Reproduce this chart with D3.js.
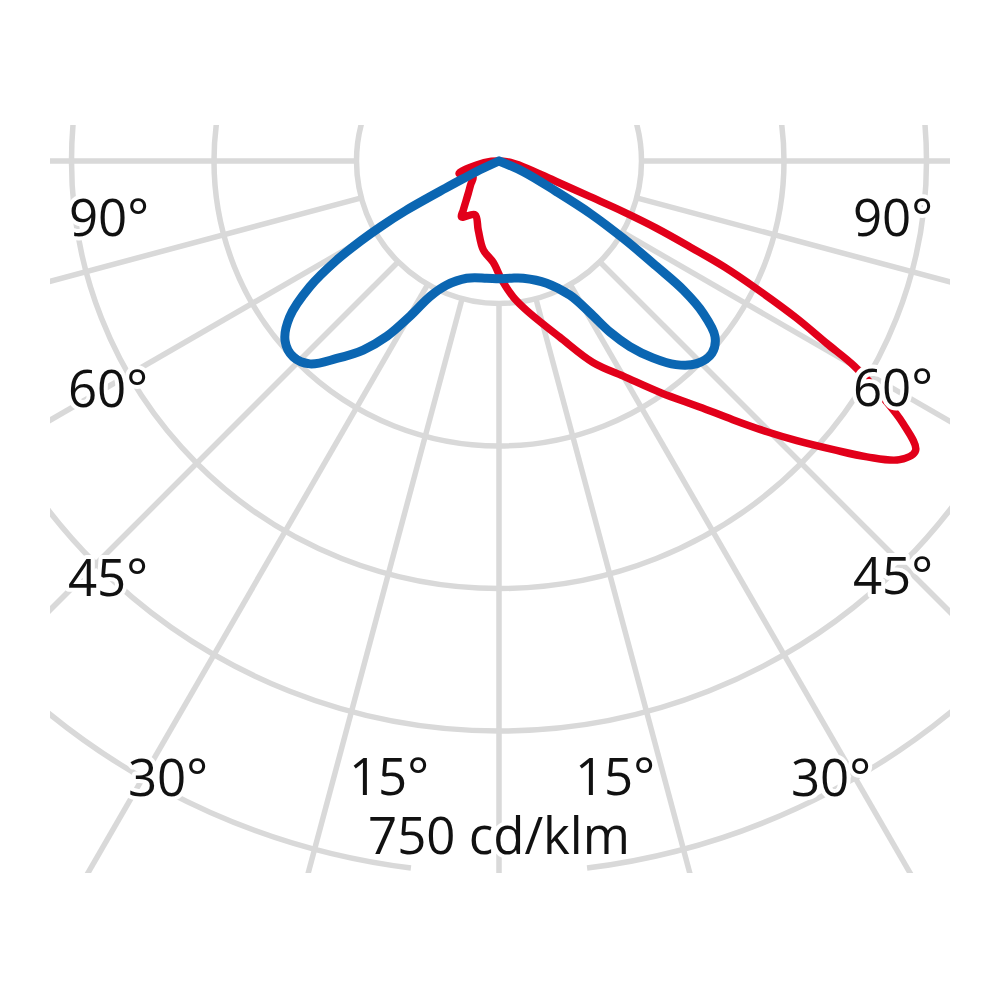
<!DOCTYPE html>
<html>
<head>
<meta charset="utf-8">
<script src="https://cdn.jsdelivr.net/npm/d3@7"></script>
<style>
  html, body { margin: 0; padding: 0; background: #fff; }
  svg { display: block; }
</style>
</head>
<body>
<svg id="chart" width="1000" height="1000"></svg>
<script>
// ---- data (angles in degrees from nadir, negative = left; values in cd/klm) ----
const ringValues = [150, 300, 450, 600, 750];
const spokeAngles = [-90, -75, -60, -45, -30, -15, 0, 15, 30, 45, 60, 75, 90];
const scaleLabel = "750 cd/klm";
const leftAngleLabels = ["90°", "60°", "45°", "30°", "15°"];
const rightAngleLabels = ["15°", "30°", "45°", "60°", "90°"];

const blueAngles = [-68, -65, -64, -63, -62, -61, -60, -58.6, -56.4, -53.3, -50, -46.4, -43, -39.4, -35.7, -32.6, -29.8, -27, -23, -15.4, -6, 0,
                    6, 11.7, 21.3, 27.9, 30.9, 33, 35.2, 38, 41, 44.3, 47.9, 50.9, 53.3, 55, 56.2, 58.1, 60.1, 62, 66.3, 68];
const blueValues = [0, 26, 37, 63, 111, 142, 168, 200, 239, 275, 294, 299, 292, 269, 245, 219, 188, 160, 142, 128, 124, 124,
                    124, 126, 138, 160, 186, 215, 239, 263, 284, 298, 302, 293, 268, 237, 200, 154, 111, 68, 28, 0];

const redAngles = [-95, -88, -80, -73, -66, -58.6, -50, -43.5, -36, -33.8, -24, -16.7, -10, -3.2, 1.3, 6, 10.5, 19, 25, 30.4, 35, 39.2,
                   42.1, 44.7, 46.8, 49.2, 51.2, 53.3, 55.2, 57, 58.4, 60, 60.9, 62.2, 63.7, 64.8, 65.8, 66.9, 67.8, 68.6, 70.3, 76.8, 85, 92];
const redValues = [0, 8, 24, 44, 38, 32, 39, 47, 64, 71, 62, 76, 95, 107, 125, 144, 160, 196, 234, 264, 298, 334,
                   367, 401, 430, 465, 497, 526, 534, 507, 474, 432, 395, 353, 300, 263, 220, 180, 141, 103, 64, 26, 8, 0];

// ---- layout ----
const W = 1000, H = 1000;
const cx = 499, cy = 161;
const clipBox = { x: 50, y: 125, w: 900, h: 748 };
const gridColor = "#d9d9d9";
const labelFont = "'Open Sans', 'Noto Sans', sans-serif";
const labelSize = 51;
const leftLabelPos = [[109, 236], [108, 407], [108, 596], [168, 796], [389, 795]];
const rightLabelPos = [[615, 795], [831, 796], [893, 594], [893, 406], [893, 236]];
const scaleLabelPos = [499, 854];
const outerGapDeg = 7.1;

const svg = d3.select("#chart");
svg.append("rect").attr("width", W).attr("height", H).attr("fill", "#fff");

svg.append("defs").append("clipPath").attr("id", "clip")
  .append("rect").attr("x", clipBox.x).attr("y", clipBox.y).attr("width", clipBox.w).attr("height", clipBox.h);

const r = d3.scaleLinear().domain([0, 750]).range([0, 712.5]);
const toRad = d => d * Math.PI / 180;

const plot = svg.append("g").attr("clip-path", "url(#clip)");
const g = plot.append("g").attr("transform", `translate(${cx},${cy})`);

// rings
const maxRing = d3.max(ringValues);
ringValues.forEach(v => {
  const p = d3.path();
  if (v === maxRing) {
    const gap = toRad(outerGapDeg);
    p.moveTo(r(v) * Math.cos(-Math.PI / 2), r(v) * Math.sin(-Math.PI / 2));
    p.arc(0, 0, r(v), -Math.PI / 2, Math.PI / 2 - gap, false);
    p.moveTo(r(v) * Math.cos(Math.PI / 2 + gap), r(v) * Math.sin(Math.PI / 2 + gap));
    p.arc(0, 0, r(v), Math.PI / 2 + gap, 3 * Math.PI / 2, false);
  } else {
    p.arc(0, 0, r(v), 0, 2 * Math.PI);
  }
  g.append("path").attr("d", p.toString())
    .attr("fill", "none").attr("stroke", gridColor).attr("stroke-width", 5.5);
});

// spokes
const inner = d3.min(ringValues);
g.selectAll("line.spoke").data(spokeAngles).join("line")
  .attr("class", "spoke")
  .attr("x1", d => r(inner) * Math.sin(toRad(d)))
  .attr("y1", d => r(inner) * Math.cos(toRad(d)))
  .attr("x2", d => r(1300) * Math.sin(toRad(d)))
  .attr("y2", d => r(1300) * Math.cos(toRad(d)))
  .attr("stroke", gridColor).attr("stroke-width", 5.5);

// curves
const radial = d3.lineRadial()
  .angle(d => Math.PI - toRad(d[0]))
  .radius(d => r(d[1]))
  .curve(d3.curveCatmullRom.alpha(0.5));

const redData = redAngles.map((a, i) => [a, redValues[i]]);
const blueData = blueAngles.map((a, i) => [a, blueValues[i]]);

g.append("path").datum(redData).attr("d", radial)
  .attr("fill", "none").attr("stroke", "#e2001a").attr("stroke-width", 7.5)
  .attr("stroke-linejoin", "round").attr("stroke-linecap", "round");
g.append("path").datum(blueData).attr("d", radial)
  .attr("fill", "none").attr("stroke", "#0b66b2").attr("stroke-width", 9)
  .attr("stroke-linejoin", "round").attr("stroke-linecap", "round");

// labels
function label(text, pos) {
  svg.append("text")
    .attr("x", pos[0]).attr("y", pos[1])
    .attr("text-anchor", "middle")
    .attr("font-family", labelFont).attr("font-size", labelSize)
    .attr("fill", "#111")
    .attr("stroke", "#fff").attr("stroke-width", 8).attr("stroke-linejoin", "round")
    .attr("paint-order", "stroke")
    .text(text);
}
leftAngleLabels.forEach((t, i) => label(t, leftLabelPos[i]));
rightAngleLabels.forEach((t, i) => label(t, rightLabelPos[i]));
label(scaleLabel, scaleLabelPos);
</script>
</body>
</html>
